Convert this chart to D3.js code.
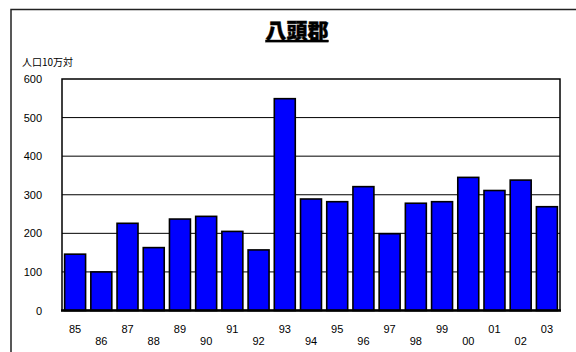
<!DOCTYPE html>
<html>
<head>
<meta charset="utf-8">
<script src="https://cdn.jsdelivr.net/npm/d3@7"></script>
<style>
  html, body { margin: 0; padding: 0; background: #fff; }
  svg { display: block; }
</style>
</head>
<body>
<svg id="chart" width="576" height="352"></svg>
<script>
// Rate per 100,000 population, 八頭郡, 1985–2003
const years = ["85","86","87","88","89","90","91","92","93","94","95","96","97","98","99","00","01","02","03"];
const values = [146, 100, 226, 163, 237, 244, 205, 157, 549, 289, 282, 321, 199, 278, 282, 345, 311, 338, 269];
const yTicks = [0, 100, 200, 300, 400, 500, 600];

const svg = d3.select("#chart");
const plot = { left: 62, right: 560, top: 79, bottom: 310.5 };

// Outer frame (runs off the right and bottom edges)
svg.append("rect")
  .attr("x", 11).attr("y", 9.5)
  .attr("width", 580).attr("height", 360)
  .attr("fill", "#fff")
  .attr("stroke", "#222").attr("stroke-width", 1.5);

const x = d3.scaleBand()
  .domain(years)
  .range([plot.left, plot.right])
  .paddingInner(0.2)
  .paddingOuter(0.1);

const y = d3.scaleLinear()
  .domain([0, 600])
  .range([plot.bottom, plot.top]);

// Horizontal gridlines
svg.append("g")
  .selectAll("line")
  .data(yTicks.filter(d => d > 0 && d < 600))
  .join("line")
  .attr("x1", plot.left).attr("x2", plot.right)
  .attr("y1", d => y(d)).attr("y2", d => y(d))
  .attr("stroke", "#000").attr("stroke-width", 1);

// Plot frame
svg.append("rect")
  .attr("x", plot.left).attr("y", plot.top)
  .attr("width", plot.right - plot.left)
  .attr("height", plot.bottom - plot.top)
  .attr("fill", "none")
  .attr("stroke", "#000").attr("stroke-width", 1.5);

// Bars
svg.append("g")
  .selectAll("rect")
  .data(values)
  .join("rect")
  .attr("x", (d, i) => x(years[i]))
  .attr("y", d => y(d))
  .attr("width", x.bandwidth())
  .attr("height", d => y(0) - y(d))
  .attr("fill", "#0000ff")
  .attr("stroke", "#000")
  .attr("stroke-width", 1.6);

// Baseline
svg.append("line")
  .attr("x1", plot.left - 1).attr("x2", plot.right + 1)
  .attr("y1", y(0)).attr("y2", y(0))
  .attr("stroke", "#000").attr("stroke-width", 2.5);

// Y axis labels
const yAxis = d3.axisLeft(y).tickValues(yTicks).tickSize(0).tickPadding(0);
const gy = svg.append("g")
  .attr("transform", `translate(${plot.left - 20},0)`)
  .call(yAxis);
gy.select(".domain").remove();
gy.selectAll("text")
  .attr("font-family", "Liberation Sans, Arial, sans-serif")
  .attr("font-size", 11)
  .attr("fill", "#000");

// X axis labels, staggered on two rows
const xAxis = d3.axisBottom(x).tickSize(0).tickPadding(0);
const gx = svg.append("g")
  .attr("transform", `translate(0,${plot.bottom})`)
  .call(xAxis);
gx.select(".domain").remove();
gx.selectAll("text")
  .attr("font-family", "Liberation Sans, Arial, sans-serif")
  .attr("font-size", 11)
  .attr("fill", "#000")
  .attr("dy", null)
  .attr("y", (d, i) => i % 2 === 0 ? 22.5 : 34.5);

// Axis unit
svg.append("text")
  .attr("x", 22).attr("y", 66)
  .attr("font-family", "Noto Sans CJK JP, sans-serif")
  .attr("font-size", 10)
  .attr("fill", "#000")
  .text("人口10万対");

// Title
svg.append("text")
  .attr("x", 297).attr("y", 38)
  .attr("text-anchor", "middle")
  .attr("font-family", "Noto Sans CJK JP, sans-serif")
  .attr("font-weight", "900")
  .attr("font-size", 21)
  .attr("text-decoration", "underline")
  .attr("stroke", "#000")
  .attr("stroke-width", 0.4)
  .attr("fill", "#000")
  .text("八頭郡");
</script>
</body>
</html>
